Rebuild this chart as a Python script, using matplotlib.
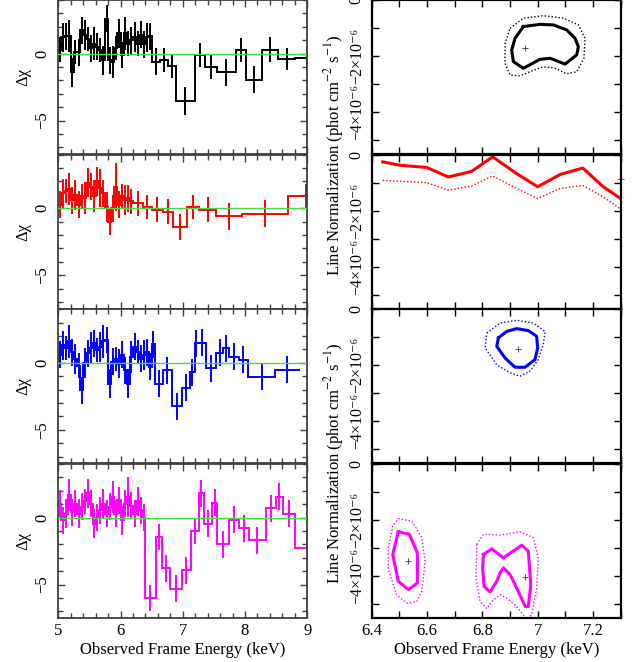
import numpy as np
import matplotlib
matplotlib.use('Agg')
import matplotlib.pyplot as plt
from matplotlib.ticker import MultipleLocator, FixedLocator

plt.rcParams['font.family'] = ['Liberation Serif', 'DejaVu Serif']
plt.rcParams['mathtext.fontset'] = 'stix'
plt.rcParams['font.size'] = 12

# residuals (delta chi), bin edges in keV
blk_edges = [5.00, 5.05, 5.10, 5.15, 5.20, 5.25, 5.30, 5.35, 5.40, 5.45, 5.50, 5.55, 5.60, 5.65, 5.70,
             5.75, 5.80, 5.85, 5.90, 5.95, 6.00, 6.05, 6.10, 6.15, 6.20, 6.25, 6.30, 6.35, 6.40, 6.45,
             6.50, 6.64, 6.76, 6.89, 7.19, 7.35, 7.55, 7.85, 8.01, 8.28, 8.53, 8.81, 9.19]
blk_vals = [0.3, 1.2, 1.3, 1.3, -1.4, 0.1, 0.1, 1.75, 1.4, 1.1, 0.4, 0.75, 0.5, 0.25, -0.5,
            2.6, -0.5, -0.6, 0.4, 1.5, -0.1, 1.5, 0.75, 1.0, 1.25, 0.75, 1.4, 0.7, 1.2, 1.3,
            -0.6, -0.45, -0.9, -3.55, -0.1, -1.0, -1.4, 0.25, -1.95, 0.3, -0.4, -0.3]
blk_errs = [0.9, 1.1, 1.0, 1.2, 1.1, 0.9, 1.0, 1.0, 1.1, 0.9, 1.0, 1.2, 1.0, 0.9, 1.1,
            1.0, 1.0, 1.2, 0.9, 1.1, 1.0, 1.2, 0.9, 1.0, 1.1, 0.9, 1.0, 1.0, 1.1, 1.0,
            1.0, 0.9, 0.9, 1.05, 0.9, 0.9, 1.0, 0.9, 1.0, 0.9, 0.8, 0.9]

red_edges = [5.00, 5.05, 5.10, 5.15, 5.20, 5.25, 5.30, 5.35, 5.40, 5.45, 5.50, 5.55, 5.60, 5.65, 5.70,
             5.75, 5.80, 5.85, 5.90, 5.95, 6.00, 6.05, 6.10, 6.15, 6.20,
             6.36, 6.50, 6.68, 6.84, 7.07, 7.26, 7.54, 7.95, 8.69, 9.27]
red_vals = [0.25, 1.1, 1.25, 1.4, 0.6, 1.0, 0.25, 0.9, 0.75, 1.9, 1.6, 0.9, 2.0, 1.5, 1.1,
            0.1, -1.0, 0.0, 1.6, 0.25, 0.9, 0.6, 0.75, 0.5,
            0.35, 0.1, -0.1, -0.25, -1.4, 0.1, -0.1, -0.6, -0.4, 0.9]
red_errs = [1.0, 1.1, 0.9, 1.2, 1.0, 1.1, 1.0, 0.9, 1.2, 1.1, 1.0, 1.2, 1.1, 1.4, 1.0,
            1.1, 1.0, 1.0, 1.8, 1.0, 0.9, 1.1, 1.0, 0.9,
            0.9, 0.9, 0.9, 0.9, 1.0, 0.9, 0.9, 1.0, 1.0, 0.9]

blu_edges = [5.00, 5.05, 5.10, 5.15, 5.20, 5.25, 5.30, 5.35, 5.40, 5.45, 5.50, 5.55, 5.60, 5.65, 5.70,
             5.75, 5.80, 5.85, 5.90, 5.95, 6.00, 6.05, 6.10, 6.15, 6.20, 6.25, 6.30, 6.35, 6.40, 6.45,
             6.50, 6.55, 6.68, 6.82, 6.98, 7.11, 7.19, 7.25, 7.37, 7.54, 7.64, 7.75, 7.90, 8.05, 8.48, 8.88]
blu_vals = [0.6, 1.3, 1.1, 1.6, 0.8, 0.3, -0.2, -2.05, 0.0, 0.7, 1.1, 1.45, 0.95, 1.2, 1.6,
            1.7, -1.55, 0.1, 0.3, -0.05, 0.6, -0.55, -1.55, 0.45, 1.2, 0.8, 0.3, 0.6, 0.8, -0.3,
            1.4, -1.55, -0.55, -3.25, -1.85, -0.7, 1.45, 1.5, -0.4, 0.75, 1.1, 0.45, 0.25, -1.05, -0.5]
blu_errs = [1.0, 1.1, 0.9, 1.2, 1.0, 1.1, 0.9, 1.0, 1.1, 1.0, 1.2, 1.0, 0.9, 1.1, 1.2,
            1.0, 1.1, 1.0, 0.9, 1.1, 1.0, 1.0, 1.1, 1.2, 1.0, 0.9, 1.0, 1.1, 1.0, 1.0,
            1.0, 1.0, 1.0, 1.0, 1.0, 1.0, 1.0, 1.0, 1.0, 1.0, 1.0, 1.0, 1.0, 1.0, 1.0]

mag_edges = [5.00, 5.05, 5.10, 5.15, 5.20, 5.25, 5.30, 5.35, 5.40, 5.45, 5.50, 5.55, 5.60, 5.65, 5.70,
             5.75, 5.80, 5.85, 5.90, 5.95, 6.00, 6.05, 6.10, 6.15, 6.20, 6.25, 6.30, 6.35, 6.39,
             6.57, 6.67, 6.80, 6.98, 7.13, 7.26, 7.34, 7.47, 7.55, 7.75, 7.90, 8.07, 8.33, 8.49, 8.61, 8.81, 9.19]
mag_vals = [1.05, -0.2, 0.3, 1.7, 0.4, 1.05, 0.3, 0.8, 1.2, 1.8, 1.05, -0.45, 0.0, 0.55,
            1.05, 0.3, 0.8, 1.55, 0.3, 1.3, -0.2, 1.05, 1.55, 0.9, 0.3, 1.2, 0.55, 0.0,
            -6.0, -1.45, -3.8, -5.3, -3.95, -1.0, 1.8, -0.45, 1.1, -2.0, -0.15, -0.8, -1.7, 0.7, 1.55, 0.3, -2.3]
mag_errs = [1.0, 1.0, 1.1, 1.2, 1.0, 1.0, 1.1, 1.0, 0.9, 1.1, 1.0, 1.1, 1.0, 1.0,
            1.1, 1.0, 1.0, 1.2, 1.0, 1.0, 1.1, 1.0, 1.5, 1.0, 1.0, 1.1, 1.0, 1.0,
            1.0, 1.0, 1.0, 1.0, 1.0, 1.0, 1.0, 1.0, 1.0, 1.0, 1.0, 1.0, 1.0, 1.0, 1.0, 1.0, 1.0]

# confidence contours: line energy (keV) vs normalization (1e-6 phot/cm2/s)
blk_c1x = [6.948, 7.008, 7.057, 7.105, 7.135, 7.147, 7.141, 7.099, 7.045, 7.008, 6.948, 6.912, 6.906, 6.918, 6.948]
blk_c1y = [-0.95, -0.87, -0.89, -1.07, -1.37, -1.67, -1.96, -2.29, -2.08, -2.12, -2.44, -2.20, -1.79, -1.37, -0.95]
blk_c2x = [6.900, 6.948, 7.020, 7.093, 7.147, 7.171, 7.167, 7.141, 7.105, 7.063, 7.020, 6.972, 6.936, 6.900, 6.882, 6.882, 6.900]
blk_c2y = [-1.01, -0.65, -0.56, -0.65, -0.89, -1.37, -2.08, -2.56, -2.64, -2.44, -2.38, -2.56, -2.71, -2.68, -2.26, -1.55, -1.01]
blk_best = (6.954, -1.70)

red_c1x = [6.440, 6.502, 6.599, 6.677, 6.761, 6.837, 6.924, 7.000, 7.081, 7.163, 7.237, 7.300]
red_c1y = [-0.26, -0.38, -0.46, -0.80, -0.60, -0.08, -0.68, -1.15, -0.71, -0.48, -1.15, -1.57]
red_c2x = [6.440, 6.599, 6.677, 6.761, 6.837, 6.924, 7.000, 7.081, 7.163, 7.237, 7.300]
red_c2y = [-0.92, -1.00, -1.27, -1.12, -0.76, -1.21, -1.57, -1.21, -1.10, -1.51, -1.95]
red_best = (7.30, -0.86)

blu_c1x = [6.858, 6.888, 6.924, 6.966, 6.996, 7.000, 6.990, 6.954, 6.918, 6.882, 6.852, 6.858]
blu_c1y = [-1.02, -0.79, -0.69, -0.76, -0.96, -1.38, -1.80, -2.07, -2.07, -1.74, -1.32, -1.02]
blu_c2x = [6.816, 6.864, 6.924, 6.984, 7.027, 7.020, 7.002, 6.972, 6.936, 6.900, 6.852, 6.810, 6.816]
blu_c2y = [-0.85, -0.49, -0.39, -0.49, -0.79, -1.26, -1.80, -2.21, -2.39, -2.27, -1.98, -1.38, -0.85]
blu_best = (6.927, -1.42)

mag_c1x = [6.496, 6.536, 6.565, 6.565, 6.533, 6.496, 6.476, 6.496]
mag_c1y = [-2.42, -2.51, -3.17, -4.25, -4.49, -4.19, -3.23, -2.42]
mag_c2x = [6.496, 6.545, 6.581, 6.593, 6.581, 6.563, 6.527, 6.490, 6.460, 6.460, 6.476, 6.496]
mag_c2y = [-1.95, -2.04, -2.63, -3.47, -4.55, -4.91, -4.97, -4.67, -3.77, -2.99, -2.22, -1.95]
mag_c3x = [6.804, 6.834, 6.876, 6.942, 6.966, 6.975, 6.966, 6.955, 6.924, 6.900, 6.876, 6.864, 6.852, 6.828, 6.806, 6.801, 6.804]
mag_c3y = [-3.23, -3.03, -3.35, -2.90, -3.11, -4.31, -5.09, -5.09, -4.43, -3.95, -3.71, -3.89, -4.19, -4.57, -4.37, -3.71, -3.23]
mag_c4x = [6.780, 6.804, 6.864, 6.936, 6.984, 7.002, 6.996, 6.978, 6.960, 6.924, 6.888, 6.864, 6.834, 6.816, 6.792, 6.777, 6.780]
mag_c4y = [-2.87, -2.51, -2.54, -2.42, -2.63, -3.35, -4.43, -5.39, -5.55, -5.09, -4.79, -4.67, -4.91, -5.17, -4.91, -4.07, -2.87]
mag_best = [(6.533, -3.47), (6.954, -4.04)]

norm_ticks = [0, -2e-6, -4e-6]
norm_labels = ['0', '\u22122\u00d710\u207b\u2076', '\u22124\u00d710\u207b\u2076']
en_ticks = [6.4, 6.6, 6.8, 7.0, 7.2]
en_labels = ['6.4', '6.6', '6.8', '7', '7.2']

fig = plt.figure(figsize=(6.39, 6.62), dpi=100)

W, H = 639.0, 662.0
tops = [0, 154.6, 309.3, 464]
ph = 154.0
lx, rx, pw = 58.3, 371.7, 249.0

def style(ax, col, lw):
    for s in ax.spines.values():
        s.set_color(col)
        s.set_linewidth(lw)
    ax.tick_params(which='both', direction='in', top=True, right=True, color=col, width=1.0)
    ax.tick_params(which='major', length=5)
    ax.tick_params(which='minor', length=3.5)

resid = [(blk_edges, blk_vals, blk_errs, 'black'),
         (red_edges, red_vals, red_errs, '#ff0000'),
         (blu_edges, blu_vals, blu_errs, '#0000ff'),
         (mag_edges, mag_vals, mag_errs, '#ff00ff')]

for i, (ed, v, e, col) in enumerate(resid):
    ax = fig.add_axes([lx / W, 1 - (tops[i] + ph) / H, pw / W, ph / H])
    ed = np.array(ed)
    v = np.array(v)
    e = np.array(e)
    ax.stairs(v, ed, baseline=None, color=col, lw=1.4)
    c = (ed[:-1] + ed[1:]) / 2
    ax.vlines(c, v - e, v + e, color=col, lw=1.4)
    ax.axhline(0, color='#44dd44', lw=1.0, zorder=5)
    ax.set_xlim(5, 9)
    ax.set_ylim(-7.5, 4)
    style(ax, '#404040', 1.3)
    ax.xaxis.set_major_locator(MultipleLocator(1))
    ax.xaxis.set_minor_locator(MultipleLocator(0.2))
    ax.yaxis.set_major_locator(FixedLocator([-5, 0]))
    ax.yaxis.set_minor_locator(MultipleLocator(1))
    ax.tick_params(axis='y', pad=6)
    plt.setp(ax.get_yticklabels(), rotation=90, va='center')
    ax.set_ylabel('\u0394\u03c7', fontsize=12)
    ax.yaxis.set_label_coords(-0.11, 0.5)
    if i < 3:
        ax.set_xticklabels([])
    else:
        ax.set_xlabel('Observed Frame Energy (keV)', fontsize=12, labelpad=2)

conts = [([(blk_c1x, blk_c1y)], [(blk_c2x, blk_c2y)], [blk_best], 'black'),
         ([(red_c1x, red_c1y)], [(red_c2x, red_c2y)], [red_best], '#ff0000'),
         ([(blu_c1x, blu_c1y)], [(blu_c2x, blu_c2y)], [blu_best], '#0000ff'),
         ([(mag_c1x, mag_c1y), (mag_c3x, mag_c3y)], [(mag_c2x, mag_c2y), (mag_c4x, mag_c4y)], mag_best, '#ff00ff')]

for i, (solid, dotted, best, col) in enumerate(conts):
    ax = fig.add_axes([rx / W, 1 - (tops[i] + ph) / H, pw / W, ph / H])
    for cx, cy in solid:
        ax.plot(cx, np.array(cy) * 1e-6, color=col, lw=2.2)
    for cx, cy in dotted:
        ax.plot(cx, np.array(cy) * 1e-6, color=col, lw=1.0, ls=(0, (1, 1.5)))
    for bx, by in best:
        ax.plot(bx, by * 1e-6, '+', color='#333333', ms=4, mew=0.6, clip_on=False)
    ax.set_xlim(6.4, 7.3)
    ax.set_ylim(-5.5e-6, 0)
    style(ax, 'black', 1.6)
    ax.xaxis.set_major_locator(FixedLocator(en_ticks))
    ax.xaxis.set_minor_locator(MultipleLocator(0.1))
    ax.tick_params(which='minor', length=5)
    ax.yaxis.set_major_locator(FixedLocator(norm_ticks))
    ax.yaxis.set_minor_locator(MultipleLocator(1e-6))
    ax.set_yticklabels(norm_labels, fontsize=11.5)
    ax.tick_params(axis='y', pad=5)
    plt.setp(ax.get_yticklabels(), rotation=90, va='center')
    if i < 3:
        ax.set_xticklabels([])
    else:
        ax.set_xticklabels(en_labels)
        ax.set_xlabel('Observed Frame Energy (keV)', fontsize=12, labelpad=2)

for yc in [155, 463]:
    fig.text(334 / W, 1 - yc / H, 'Line Normalization (phot cm$^{-2}$ s$^{-1}$)',
             rotation=90, ha='center', va='center', fontsize=12)

fig.savefig('out.png', dpi=100)
